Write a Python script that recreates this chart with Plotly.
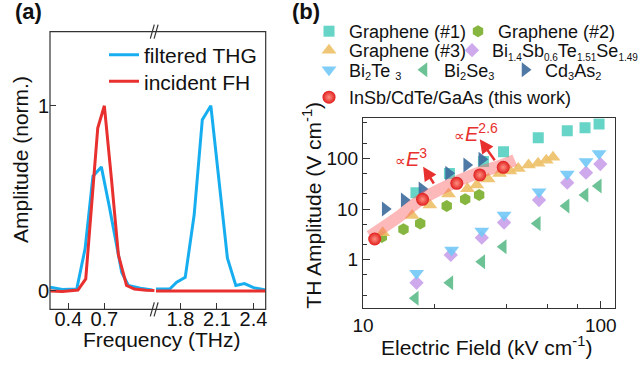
import plotly.graph_objects as go
import numpy as np

W, H = 641, 366

# ---------------- Panel (a) data ----------------
thg_f_low = [0.25, 0.35, 0.47, 0.54, 0.605, 0.675, 0.74, 0.805, 0.845, 0.90, 1.00, 1.10]
thg_v_low = [0.02, 0.008, 0.01, 0.23, 0.62, 0.67, 0.46, 0.23, 0.10, 0.03, 0.015, 0.005]
fh_f_low = [0.25, 0.35, 0.48, 0.545, 0.645, 0.70, 0.76, 0.817, 0.885, 0.95, 1.05, 1.12]
fh_v_low = [0.0, -0.003, 0.005, 0.065, 0.88, 1.0, 0.6, 0.195, 0.03, 0.01, 0.004, 0.003]
thg_f_high = [1.60, 1.715, 1.77, 1.84, 1.913, 1.98, 2.05, 2.186, 2.255, 2.326, 2.40, 2.50]
thg_v_high = [0.01, 0.012, 0.047, 0.074, 0.41, 0.925, 1.0, 0.177, 0.03, 0.04, 0.018, 0.005]
fh_f_high = [1.60, 1.80, 2.10, 2.50]
fh_v_high = [0.0, 0.0, 0.0, 0.0]
freq_ticks_low = [0.4, 0.7]
freq_ticks_high = [1.8, 2.1, 2.4]

# ---------------- Panel (b) data ----------------
g1_E = [16.7, 23.1, 32.1, 39.0, 54.6, 72.3, 85.9, 98.4]
g1_A = [21, 50, 86, 135, 255, 350, 400, 475]
g2_E = [12.0, 14.8, 17.4, 22.5, 26.9, 30.8]
g2_A = [2.8, 4.0, 5.2, 11.5, 15.5, 18.9]
g3_E = [12.1, 16.1, 19.1, 22.9, 27.5, 30.1, 33.6, 37.5, 41.5, 45.0, 49.7, 54.5, 59.0, 63.0]
g3_A = [3.4, 7.4, 12.0, 19.8, 25.0, 29.7, 39.0, 50.0, 56.0, 63.0, 74.0, 80.0, 92.0, 105.0]
bst_E = [16.8, 23.4, 31.6, 39.2, 55.0, 72.3, 86.7, 99.6]
bst_A = [0.35, 1.24, 2.72, 5.4, 15.0, 33.0, 52.0, 77.0]
bt_E = [16.8, 23.6, 31.6, 39.2, 55.0, 72.3, 86.7, 98.4]
bt_A = [0.54, 1.55, 3.7, 7.6, 21.9, 49.0, 86.0, 125.0]
bs_E = [16.6, 23.2, 31.6, 38.9, 54.1, 71.5, 85.9, 97.7]
bs_A = [0.173, 0.35, 0.91, 1.8, 5.2, 11.5, 18.9, 28.4]
cd_E = [12.4, 14.9, 17.7, 22.9, 27.3, 31.6]
cd_A = [10.0, 15.0, 24.8, 50.6, 73.8, 95.5]
insb_E = [11.2, 17.8, 24.8, 31.0, 38.9]
insb_A = [2.56, 15.5, 32.1, 46.9, 66.4]
band_E = [10.7, 14.0, 17.8, 24.8, 31.0, 38.9, 43.5]
band_A = [2.9, 6.8, 16.0, 35.0, 53.0, 75.0, 93.0]
amp_ticks = [1, 10, 100]
amp_minor = [0.2, 0.5, 2, 5, 20, 50, 200, 500]
field_ticks = [10, 100]
field_minor = [20, 40, 60, 80]

FONT = "Liberation Sans, Arial, sans-serif"
BLUE = "#17AEF0"
RED = "#E8302E"
AX = "#333333"


def sub(t, s=11):
    return "<sub><span style='font-size:%dpx'>%s</span></sub>" % (s, t)


fig = go.Figure()

# panel (a) traces
fig.add_trace(go.Scatter(x=thg_f_low, y=thg_v_low, mode="lines", line=dict(color=BLUE, width=3),
                         name="filtered THG", xaxis="x", yaxis="y", legend="legend"))
fig.add_trace(go.Scatter(x=thg_f_high, y=thg_v_high, mode="lines", line=dict(color=BLUE, width=3),
                         showlegend=False, xaxis="x2", yaxis="y"))
fig.add_trace(go.Scatter(x=fh_f_low, y=fh_v_low, mode="lines", line=dict(color=RED, width=3),
                         name="incident FH", xaxis="x", yaxis="y", legend="legend10"))
fig.add_trace(go.Scatter(x=fh_f_high, y=fh_v_high, mode="lines", line=dict(color=RED, width=3),
                         showlegend=False, xaxis="x2", yaxis="y"))


def mk(E, A, name, symbol, size, color, leg, opacity=0.9):
    fig.add_trace(go.Scatter(x=E, y=A, mode="markers", name=name, legend=leg,
                             marker=dict(symbol=symbol, size=size, color=color, opacity=opacity,
                                         line=dict(width=0)),
                             xaxis="x3", yaxis="y2"))


mk(g1_E, g1_A, "Graphene (#1)", "square", 11, "#55CFC0", "legend11")
mk(g2_E, g2_A, "Graphene (#2)", "hexagon", 12, "#79AE2A", "legend12")
mk(g3_E, g3_A, "Graphene (#3)", "triangle-up", 13, "#EDC066", "legend4")
mk(bst_E, bst_A, "Bi" + sub("1.4", 10) + "Sb" + sub("0.6", 10) + "Te" + sub("1.51", 10) + "Se" + sub("1.49", 10),
   "diamond", 11, "#C9A0EA", "legend5")
mk(bt_E, bt_A, "Bi" + sub("2") + "Te " + sub("3"), "triangle-down", 13, "#72C8F6", "legend6")
mk(bs_E, bs_A, "Bi" + sub("2") + "Se" + sub("3"), "triangle-left", 13, "#5CBB88", "legend7")
mk(cd_E, cd_A, "Cd" + sub("3") + "As" + sub("2"), "triangle-right", 13, "#3E6A9C", "legend8")

fig.add_trace(go.Scatter(x=band_E, y=band_A, mode="lines",
                         line=dict(color="rgba(250,100,100,0.45)", width=12, shape="spline"),
                         showlegend=False, xaxis="x3", yaxis="y2", hoverinfo="skip"))
fig.add_trace(go.Scatter(x=insb_E, y=insb_A, mode="markers", name="InSb/CdTe/GaAs (this work)", legend="legend9",
                         marker=dict(symbol="circle", size=13, color="#E01E1E",
                                     gradient=dict(type="radial", color="#FF9080"), line=dict(width=0)),
                         xaxis="x3", yaxis="y2"))


def px_x(p):
    return p / W


def px_y(p):
    return 1 - p / H


common_ax = dict(showgrid=False, zeroline=False, ticks="inside", tickcolor=AX, tickwidth=1.2,
                 tickfont=dict(size=20, color="#111"), automargin=False)


def leg(sym_x, sym_y, size=18):
    return dict(bgcolor="rgba(0,0,0,0)", borderwidth=0, xanchor="left", yanchor="middle",
                orientation="v", x=px_x(sym_x - 20), y=px_y(sym_y),
                font=dict(size=size, family=FONT, color="#111"))


fig.update_layout(
    width=W, height=H, margin=dict(l=0, r=0, t=0, b=0, autoexpand=False),
    plot_bgcolor="white", paper_bgcolor="white",
    font=dict(family=FONT, size=20, color="#111"),
    xaxis=dict(domain=[px_x(50), px_x(154.5)], range=[0.247, 1.118], anchor="y",
               tickvals=freq_ticks_low, ticklen=6, showline=False, ticklabelstandoff=-4, **common_ax),
    xaxis2=dict(domain=[px_x(155.5), px_x(265.7)], range=[1.596, 2.50], anchor="y",
                tickvals=freq_ticks_high, ticklen=6, showline=False, ticklabelstandoff=-4, **common_ax),
    yaxis=dict(domain=[px_y(309.3), px_y(31.7)], range=[-0.099, 1.40], anchor="x",
               tickvals=[0, 1], ticklen=6, showline=False, **common_ax),
    xaxis3=dict(domain=[px_x(363), px_x(615)], type="log", range=[1.0, 2.06], anchor="y2",
                tickvals=field_ticks, ticktext=["10", "100"], ticklen=7,
                minor=dict(tickvals=field_minor, ticks="inside", ticklen=4, tickcolor=AX, tickwidth=1.2),
                showline=True, mirror=True, linecolor=AX, linewidth=1.2,
                **{**common_ax, "tickfont": dict(size=19, color="#111")}),
    yaxis2=dict(domain=[px_y(307.7), px_y(118.3)], type="log", range=[-0.947, 2.789], anchor="x3",
                tickvals=amp_ticks, ticktext=["1", "10", "100"], ticklen=7,
                minor=dict(tickvals=amp_minor, ticks="inside", ticklen=4, tickcolor=AX, tickwidth=1.2),
                showline=True, mirror=True, linecolor=AX, linewidth=1.2,
                **{**common_ax, "tickfont": dict(size=19, color="#111")}),
    legend=leg(124, 55, 21),
    legend10=leg(124, 81.7, 21),
    legend11=leg(329, 31.5),
    legend12=leg(478, 31.5),
    legend4=leg(329, 50.5),
    legend5=leg(472, 50.5),
    legend6=leg(329, 70),
    legend7=leg(424, 70),
    legend8=leg(525, 70),
    legend9=leg(329, 97.5),
    showlegend=True,
)

shapes = [
    dict(type="rect", xref="paper", yref="paper", x0=px_x(50), x1=px_x(265.7), y0=px_y(309.3), y1=px_y(31.7),
         line=dict(color=AX, width=1.2), fillcolor="rgba(0,0,0,0)", layer="above"),
]
for yc in (309.3, 31.7):
    for dx in (0, 3.8):
        shapes.append(dict(type="line", xref="paper", yref="paper",
                           x0=px_x(150.3 + dx), y0=px_y(yc + 7), x1=px_x(154.3 + dx), y1=px_y(yc - 7),
                           line=dict(color=AX, width=1.2)))
fig.update_layout(shapes=shapes)


def note(text, x, y, size=21, angle=0, color="#111", xref="paper", yref="paper"):
    return dict(text=text, x=x, y=y, xref=xref, yref=yref, showarrow=False, textangle=angle,
                xanchor="center", yanchor="middle", font=dict(size=size, color=color))


ann = [
    note("<b>(a)</b>", px_x(28), px_y(11), 22),
    note("<b>(b)</b>", px_x(306), px_y(11), 22),
    note("Amplitude (norm.)", px_x(20), px_y(160), 21, -90),
    note("Frequency (THz)", px_x(161.7), px_y(339), 21),
    note("TH Amplitude (V cm<sup>-1</sup>)", px_x(311.7), px_y(205), 21, -90),
    note("Electric Field (kV cm<sup>-1</sup>)", px_x(486.7), px_y(346), 21),
    note("<span style='font-size:15px'>\u221d</span><i>E</i><sup>3</sup>", np.log10(15.9), np.log10(106),
         20, 0, RED, "x3", "y2"),
    note("<span style='font-size:15px'>\u221d</span><i>E</i><sup>2.6</sup>", np.log10(29.9), np.log10(330),
         20, 0, RED, "x3", "y2"),
    dict(text="", x=np.log10(17.9), y=np.log10(68.3), xref="x3", yref="y2", showarrow=True,
         ax=11.7, ay=18.3, arrowcolor=RED, arrowwidth=2.5, arrowhead=2, arrowsize=1.1),
    dict(text="", x=np.log10(31.0), y=np.log10(237), xref="x3", yref="y2", showarrow=True,
         ax=16, ay=22.4, arrowcolor=RED, arrowwidth=2.5, arrowhead=2, arrowsize=1.1),
]
fig.update_layout(annotations=ann)

fig.write_html("out.html")
